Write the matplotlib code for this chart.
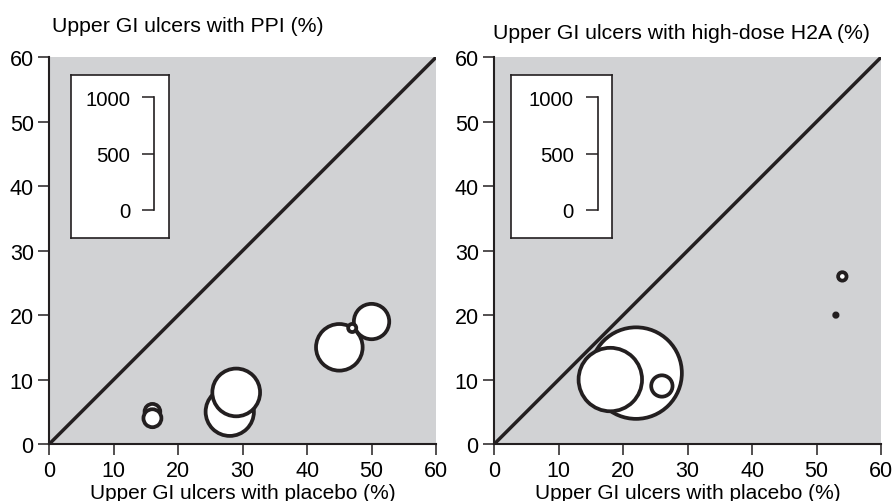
import matplotlib
matplotlib.use("Agg")
import matplotlib.pyplot as plt
from matplotlib.patches import Circle

plt.rcParams['font.family'] = ['Liberation Sans', 'DejaVu Sans']

# Left panel: PPI vs placebo (ulcer %, and trial size)
ppi_placebo = [16, 16, 28, 29, 45, 50, 47]
ppi_treated = [5, 4, 5, 8, 15, 19, 18]
ppi_n = [140, 160, 430, 425, 415, 315, 72]

# Right panel: high-dose H2A vs placebo
h2a_placebo = [22, 18, 26, 54, 53]
h2a_treated = [11, 10, 9, 26, 20]
h2a_n = [815, 565, 190, 75, 30]

scale_ticks = [0, 500, 1000]
axis_ticks = [0, 10, 20, 30, 40, 50, 60]

W, H = 893, 502
gray = '#d1d2d4'
ink = '#231f20'


def px_rect(l, t, r, b):
    return [l / W, (H - b) / H, (r - l) / W, (b - t) / H]


fig = plt.figure(figsize=(W / 100, H / 100), dpi=100)

# data units per patient (1000 patients = height of the inset scale)
units_per_n = 112.4 / 6.45 / 1000


def panel(ax_px, box_px, scale_px, xs, ys, ns, title, title_px):
    ax = fig.add_axes(px_rect(*ax_px))
    ax.set_facecolor(gray)
    ax.set_xlim(0, 60)
    ax.set_ylim(0, 60)
    ax.set_xticks(axis_ticks)
    ax.set_yticks(axis_ticks)
    for s in ['top', 'right']:
        ax.spines[s].set_visible(False)
    for s in ['left', 'bottom']:
        ax.spines[s].set_linewidth(1.5)
        ax.spines[s].set_color(ink)
    ax.tick_params(labelsize=15.5, length=7.7, width=1.1, color=ink, pad=3.5)
    ax.plot([0, 60], [0, 60], color=ink, lw=2.5, solid_capstyle='butt', zorder=2)
    for x, y, n in zip(xs, ys, ns):
        ax.add_patch(Circle((x, y), n * units_per_n / 2, facecolor='white',
                            edgecolor=ink, lw=2.7, zorder=3))
    ax.text(0.5, -(499 - 445) / 386.7, 'Upper GI ulcers with placebo (%)',
            transform=ax.transAxes, ha='center', va='baseline', fontsize=15)
    fig.text(title_px[0] / W, (H - title_px[1]) / H, title,
             ha='left', va='baseline', fontsize=15.3)

    box = fig.add_axes(px_rect(*box_px))
    box.set_facecolor('white')
    box.set_xticks([])
    box.set_yticks([])
    for s in box.spines.values():
        s.set_linewidth(1.2)
        s.set_color(ink)

    sc = fig.add_axes(px_rect(*scale_px))
    sc.patch.set_visible(False)
    sc.set_ylim(0, 1000)
    sc.set_yticks(scale_ticks)
    sc.set_xticks([])
    for s in ['top', 'right', 'bottom']:
        sc.spines[s].set_visible(False)
    sc.spines['left'].set_linewidth(1.2)
    sc.spines['left'].set_color(ink)
    sc.tick_params(labelsize=14.6, length=8.3, width=1.1, color=ink, pad=9)
    return ax


panel((49.3, 58.3, 436, 445), (71, 76, 169, 239), (154.3, 98.3, 164, 210.7),
      ppi_placebo, ppi_treated, ppi_n, 'Upper GI ulcers with PPI (%)', (51.7, 32.3))
panel((494.3, 58.3, 881, 445), (511, 76, 611.7, 239), (597.7, 98.3, 607, 210.7),
      h2a_placebo, h2a_treated, h2a_n, 'Upper GI ulcers with high-dose H2A (%)', (492.7, 39.3))

fig.savefig('out.png', dpi=100)
